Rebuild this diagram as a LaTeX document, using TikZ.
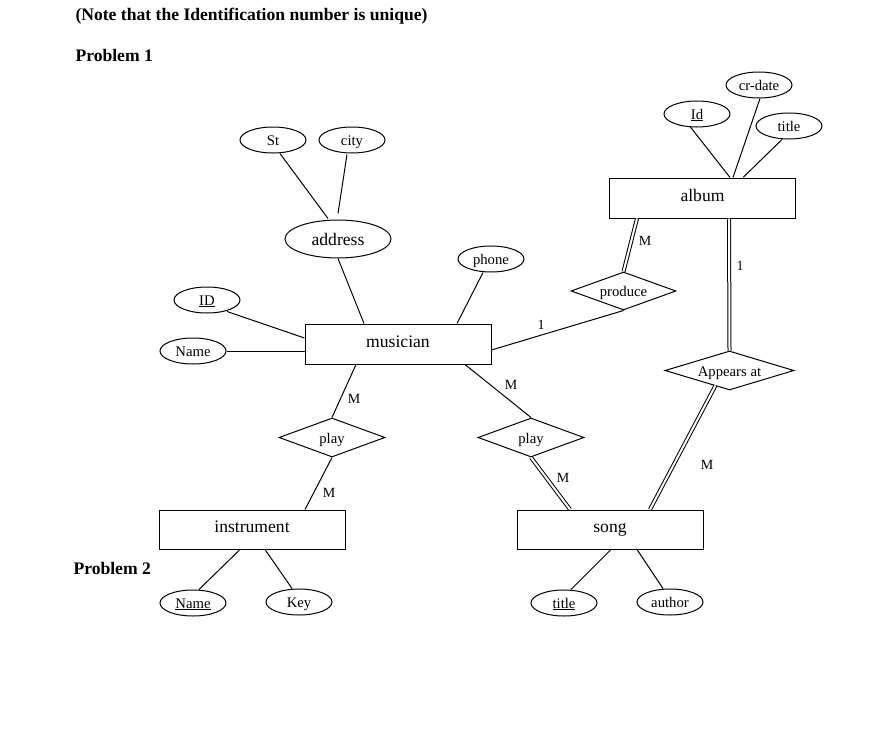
\documentclass[tikz,border=0pt]{standalone}
\usepackage{fontspec}
\setmainfont{Liberation Serif}
\usetikzlibrary{shapes.geometric,calc}

\begin{document}
\begin{tikzpicture}[x=1pt,y=-1pt, line width=1pt,
  entity/.style={draw, rectangle, minimum width=186pt, minimum height=40pt, inner sep=0pt,
    text height=6pt, text depth=0pt, font=\fontsize{17.6}{20}\selectfont},
  attr/.style={draw, ellipse, minimum width=66pt, minimum height=26pt, inner sep=0pt,
    text height=10pt, text depth=0pt, font=\fontsize{14.7}{17}\selectfont},
  rel/.style={draw, diamond, inner sep=0pt, text height=11pt, text depth=0pt,
    font=\fontsize{14.7}{17}\selectfont},
  card/.style={font=\fontsize{14}{16}\selectfont, inner sep=0pt},
  conn/.style={line width=1pt},
  total/.style={line width=1pt, double, double distance=2pt},
  heading/.style={font=\fontsize{17.6}{20}\bfseries\selectfont, anchor=west, inner sep=0pt}]

\fill[white] (0,0) rectangle (891,752);
\useasboundingbox (0,0) rectangle (891,752);

% headings
\node[heading] (note) at (75,16) {(Note that the Identification number is unique)};
\node[heading] (p1) at (75,55) {Problem 1};
\node[heading] (p2) at (73,568) {Problem 2};

% entities
\node[entity] (album) at (702.5,198) {album};
\node[entity] (musician) at (398,344) {musician};
\node[entity, minimum height=39pt] (instrument) at (252,529.5) {instrument};
\node[entity, minimum height=39pt] (song) at (610,529.5) {song};

% relationships
\node[rel, aspect=2.76, minimum width=105pt, minimum height=38pt] (produce) at (623.5,291) {produce};
\node[rel, aspect=3.3, minimum width=129pt, minimum height=39pt] (appears) at (729.5,370.5) {Appears at};
\node[rel, aspect=2.72, minimum width=106pt, minimum height=39pt] (playI) at (332,437.5) {play};
\node[rel, aspect=2.72, minimum width=106pt, minimum height=39pt] (playS) at (531,437.5) {play};

% attributes
\node[attr] (st) at (273,140) {St};
\node[attr] (city) at (352,140) {city};
\node[attr, minimum width=106pt, minimum height=38pt, text height=12pt,
  font=\fontsize{17.6}{20}\selectfont] (address) at (338,239) {address};
\node[attr] (phone) at (491,259) {phone};
\node[attr] (mid) at (207,300) {\underline{ID}};
\node[attr] (mname) at (193,351) {Name};
\node[attr] (aid) at (697,114) {\underline{Id}};
\node[attr] (crdate) at (759,85) {cr-date};
\node[attr] (atitle) at (789,126) {title};
\node[attr] (iname) at (193,603) {\underline{Name}};
\node[attr] (ikey) at (299,602) {Key};
\node[attr] (stitle) at (564,603) {\underline{title}};
\node[attr] (sauthor) at (670,602) {author};

% attribute links
\draw[conn] ($(st.south)+(7,0)$) -- ($(address.north)+(-10,-1)$);
\draw[conn] ($(city.south)+(-5,1)$) -- ($(address.north)+(0,-6)$);
\draw[conn] (address.south) -- ($(musician.north)+(-34,0)$);
\draw[conn] ($(phone.south)+(-8,0)$) -- ($(musician.north)+(59,0)$);
\draw[conn] ($(mid.south)+(20,-2)$) -- ($(musician.west)+(0,-6)$);
\draw[conn] (mname.east) -- (mname.east -| musician.west);
\draw[conn] ($(aid.south)+(-7,-1)$) -- ($(album.north)+(27.5,0)$);
\draw[conn] ($(crdate.south)+(1,0)$) -- ($(album.north)+(30.5,0)$);
\draw[conn] ($(atitle.south)+(-7,0)$) -- ($(album.north)+(40.5,0)$);
\draw[conn] ($(instrument.south)+(-12,0)$) -- ($(iname.north)+(6,0)$);
\draw[conn] ($(instrument.south)+(13,0)$) -- ($(ikey.north)+(-7,0)$);
\draw[conn] ($(song.south)+(1,0)$) -- ($(stitle.north)+(7,0)$);
\draw[conn] ($(song.south)+(27,0)$) -- ($(sauthor.north)+(-7,0)$);

% relationship links
\draw[conn] ($(musician.east)+(0,6)$) -- (produce.south);
\draw[total] (produce.north) -- ($(album.south)+(-65.5,0)$);
\draw[total] ($(album.south)+(26.5,0)$) -- (appears.north);
\draw[total] ($(appears.south)+(-14,-5)$) -- ($(song.north)+(40,0)$);
\draw[conn] ($(musician.south)+(-42,0)$) -- (playI.north);
\draw[conn] (playI.south) -- ($(instrument.north)+(53,0)$);
\draw[conn] ($(musician.south)+(67,0)$) -- (playS.north);
\draw[total] (playS.south) -- ($(song.north)+(-40,0)$);

% cardinalities
\node[card] (c1) at (541,325) {1};
\node[card] (c2) at (645,241) {M};
\node[card] (c3) at (740,266) {1};
\node[card] (c4) at (707,465) {M};
\node[card] (c5) at (354,399) {M};
\node[card] (c6) at (329,493) {M};
\node[card] (c7) at (511,385) {M};
\node[card] (c8) at (563,478) {M};
\end{tikzpicture}
\end{document}
